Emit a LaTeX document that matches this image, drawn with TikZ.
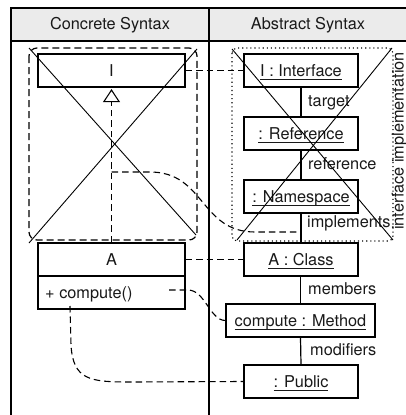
\documentclass[tikz,border=0pt]{standalone}
\usepackage{fontspec}
\setmainfont{TeX Gyre Heros}
\usetikzlibrary{arrows.meta}
% underlined object name with a fixed rule offset
\newcommand\objname[1]{\setbox0\hbox{#1}\rlap{\rule[-3.6pt]{\wd0}{0.9pt}}\box0}
\begin{document}
\begin{tikzpicture}[x=1pt,y=-1pt,
  every node/.style={font=\fontsize{16.3}{19}\selectfont, text=black!90},
  cls/.style={draw, line width=1.2pt, fill=white, minimum height=33pt, inner sep=0pt,
    text height=11.4pt, text depth=0pt},
  lbl/.style={anchor=base west, inner sep=0pt},
  trace/.style={line width=1.1pt, dash pattern=on 6.5pt off 4pt},
  link/.style={line width=1.2pt},
  crossline/.style={line width=0.9pt},
  frame/.style={line width=1.3pt},
]
\useasboundingbox (0,0) rectangle (406,415);
\clip (0,0) rectangle (406,415);

% table frame with the two column headers
\fill[black!8] (11,8) rectangle (420,41);
\draw[frame] (11,415) -- (11,8) -- (420,8);
\draw[frame] (11,41) -- (420,41);
\draw[frame] (209,8) -- (209,415);
\node[anchor=base] (hc) at (110,29.3) {Concrete Syntax};
\node[anchor=base] (ha) at (308,29.3) {Abstract Syntax};

% group outlines
\draw[trace, line width=1.2pt, dash pattern=on 7pt off 4pt, rounded corners=8pt] (29,48) rectangle (197,240);
\draw[line width=1.1pt, dash pattern=on 1.1pt off 3pt, rounded corners=5pt] (232,48) rectangle (393,241);
\node[rotate=90, inner sep=0pt] (impl) at (399.5,141) {interface implementation};

% concrete syntax: class diagram
\node[cls, minimum width=147pt] (I) at (111.5,70.5) {I};
\node[cls, minimum width=147pt] (A) at (111.5,259.5) {A};
\node[cls, minimum width=147pt] (Aops) at (111.5,292.5) {};
\node[lbl, anchor=west, text height=11.4pt, text depth=0pt] (op) at (45,292.5) {+ compute()};
\draw[trace, -{Triangle[open, length=13pt, width=17pt, line width=1.1pt]}, shorten >=1.5pt] (A.north) -- (I.south);

% abstract syntax: object graph
\node[cls, minimum width=114pt] (oI) at (301,70.5) {\objname{I : Interface}};
\node[cls, minimum width=114pt] (oRef) at (301,133.5) {\objname{: Reference}};
\node[cls, minimum width=114pt] (oNs) at (301,196.5) {\objname{: Namespace}};
\node[cls, minimum width=114pt] (oA) at (301,259.5) {\objname{A : Class}};
\node[cls, minimum width=149pt] (oM) at (300.5,320.5) {\objname{compute : Method}};
\node[cls, minimum width=114pt] (oP) at (301,381.5) {\objname{: Public}};

\draw[link] (oI.south) -- (oRef.north);
\draw[link] (oRef.south) -- (oNs.north);
\draw[link] (oNs.south) -- (oA.north);
\draw[link] (oA.south -| oM.north) -- (oM.north);
\draw[link] (oM.south) -- (oP.south |- oP.north);

\node[lbl] (l1) at (308,106) {target};
\node[lbl] (l2) at (308,169) {reference};
\node[lbl] (l3) at (307,227) {implements};
\node[lbl] (l4) at (308,294) {members};
\node[lbl] (l5) at (310,355) {modifiers};

% crossed-out groups
\coordinate (c1) at (29,48);
\coordinate (c2) at (196,235);
\coordinate (c3) at (197,49);
\coordinate (c4) at (29,243);
\draw[crossline] (c1) -- (c2);
\draw[crossline] (c3) -- (c4);
\coordinate (d1) at (232,49);
\coordinate (d2) at (393,240);
\coordinate (d3) at (392,48);
\coordinate (d4) at (237,240);
\draw[crossline] (d1) -- (d2);
\draw[crossline] (d3) -- (d4);

% trace links between concrete and abstract syntax
\coordinate (gen) at (111.5,172);
\coordinate (implLine) at (301,232);
\coordinate (opEnd) at (169,290);
\coordinate (opFoot) at (70,306);
\draw[trace] (I.east) -- (oI.west);
\draw[trace] (A.east) -- (oA.west);
\draw[trace] (gen) -- (150,172) .. controls (205,172) and (200,232) .. (255,232) -- (implLine);
\draw[trace] (opEnd) -- (188,290) .. controls (205,290) and (210,320.5) .. (oM.west);
\draw[trace] (opFoot) -- (71,345) .. controls (73,380) and (90,382) .. (130,382) -- (oP.west);
\end{tikzpicture}
\end{document}
